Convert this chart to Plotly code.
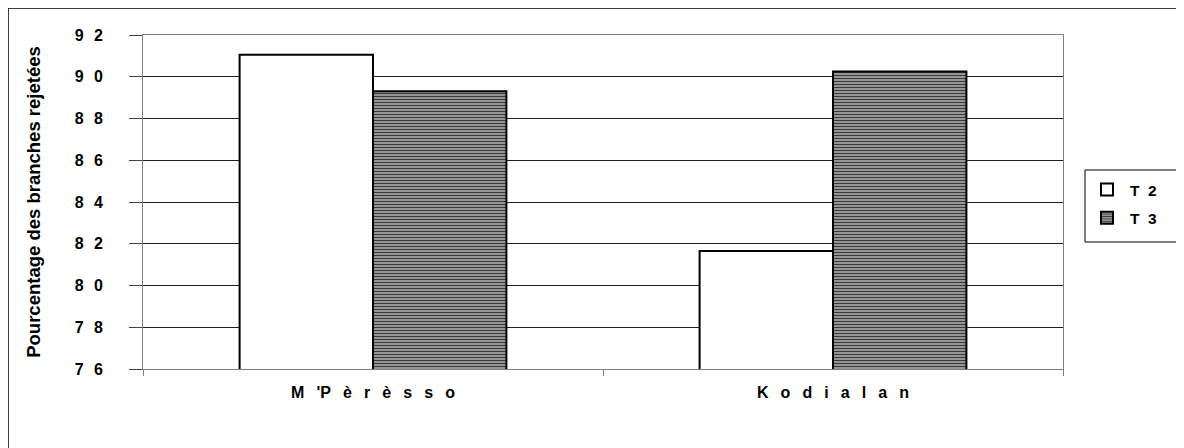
import plotly.graph_objects as go

NB = "\u00a0"
GAP = NB + NB + "\u2009"
categories = ["M 'P è r è s s o", "K o d i a l a n"]
t2_values = [91.05, 81.65]
t3_values = [89.3, 90.25]
series_names = ["T 2", "T 3"]
y_tickvals = [76, 78, 80, 82, 84, 86, 88, 90, 92]
y_ticktext = ["7 6", "7 8", "8 0", "8 2", "8 4", "8 6", "8 8", "9 0", "9 2"]
y_title = "Pourcentage des branches rejetées"

FONT = "Liberation Sans, Arial, sans-serif"

cat_labels = [c.replace(" ", GAP) for c in categories]
legend_names = [n.replace(" ", NB + NB) for n in series_names]
tick_labels = [t.replace(" ", NB + NB + "\u200a") for t in y_ticktext]

fig = go.Figure()
fig.add_trace(go.Bar(
    x=cat_labels, y=t2_values, name=legend_names[0], legendgroup="a",
    marker=dict(color="white", line=dict(color="black", width=2)),
))
fig.add_trace(go.Bar(
    x=cat_labels, y=t3_values, name=legend_names[1], legendgroup="b",
    marker=dict(color="#9a9a9a", line=dict(color="black", width=2),
                pattern=dict(shape="-", fgcolor="#3a3a3a", bgcolor="#a8a8a8",
                             size=3, solidity=0.45, fillmode="replace")),
))

# page offset of the figure inside the browser (body margin)
OFF = 8
W, H = 1184 - OFF, 448 - OFF
L, T = 143 - OFF, 35 - OFF
PR, PB = 1063 - OFF, 369 - OFF
R, B = W - PR, H - PB
pw, ph = W - L - R, H - T - B

def px_x(px):
    return (px - OFF - L) / pw

def px_y(py):
    return (H - B - (py - OFF)) / ph

fig.update_layout(
    width=W, height=H,
    margin=dict(l=L, r=R, t=T, b=B),
    paper_bgcolor="white", plot_bgcolor="white",
    barmode="group", bargap=0.42, bargroupgap=0,
    font=dict(family=FONT, size=14, color="black"),
    showlegend=True,
    legend=dict(
        x=px_x(1084), y=px_y(204), xanchor="left", yanchor="middle",
        borderwidth=0, bgcolor="rgba(0,0,0,0)",
        font=dict(family=FONT, size=15.5, color="black", weight="bold"),
        tracegroupgap=5, itemwidth=36,
    ),
    xaxis=dict(
        type="category", showline=True, linecolor="#808080", linewidth=1,
        mirror=True, ticks="outside", tickson="boundaries", ticklen=6,
        tickcolor="#808080", showgrid=False,
        tickfont=dict(family=FONT, size=16, color="black", weight="bold"),
        ticklabelstandoff=9,
    ),
    yaxis=dict(
        range=[76, 92], tickvals=y_tickvals, ticktext=tick_labels,
        showline=True, linecolor="#808080", linewidth=1, mirror=True,
        ticks="outside", ticklen=13, tickcolor="#404040",
        showgrid=True, gridcolor="#202020", gridwidth=1,
        tickfont=dict(family=FONT, size=16, color="black", weight="bold"),
        ticklabelstandoff=23,
        title=dict(text=y_title, standoff=29,
                   font=dict(family=FONT, size=18.5, color="black", weight="bold")),
        zeroline=False,
    ),
    shapes=[
        dict(type="rect", xref="paper", yref="paper",
             x0=px_x(8), x1=px_x(1300), y0=px_y(560), y1=px_y(8),
             line=dict(color="black", width=1.5), fillcolor="rgba(0,0,0,0)",
             layer="below"),
        dict(type="rect", xref="paper", yref="paper",
             x0=px_x(1085), x1=px_x(1182), y0=px_y(242), y1=px_y(170),
             line=dict(color="black", width=1), fillcolor="rgba(0,0,0,0)",
             layer="below"),
    ],
)

fig.write_html("out.html")
